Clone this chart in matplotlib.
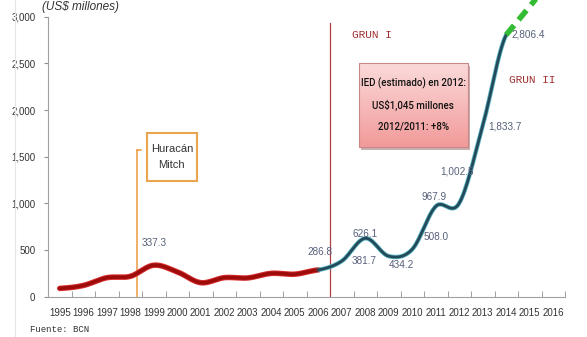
import numpy as np
import matplotlib
matplotlib.use('Agg')
import matplotlib.pyplot as plt
from matplotlib.lines import Line2D
from matplotlib.patches import Rectangle

plt.rcParams['font.family'] = ['Liberation Sans', 'DejaVu Sans']

# IED en Nicaragua, US$ millones
years = list(range(1995, 2017))
hist_years = list(range(1995, 2007))
hist_vals = [88.9, 120.0, 203.4, 218.2, 337.3, 266.5, 150.2, 203.9, 201.3, 250.0, 241.1, 286.8]
grun_years = list(range(2006, 2015))
grun_vals = [286.8, 381.7, 626.1, 434.2, 508.0, 967.9, 1002.5, 1833.7, 2806.4]
proj_years = [2014, 2015, 2016]
proj_vals = [2806.4, 3110.0, 3420.0]

# etiquetas de valores: (anio, valor, dx, dy) con desplazamiento en pixeles
labels = [(1999, 337.3, 0, 22), (2006, 286.8, 2, 18), (2007, 381.7, 22, 0),
          (2008, 626.1, 0, 4), (2009, 434.2, 13, -9), (2010, 508.0, 24, 12),
          (2011, 967.9, -2, 9), (2012, 1002.5, -2, 32), (2013, 1833.7, 22, -1),
          (2014, 2806.4, 22, 0)]


def idx(y):
    return np.asarray(y, dtype=float) - 1995


def smooth(xs, ys, n=30):
    # curva suavizada tipo Catmull-Rom entre los puntos
    xs = np.asarray(xs, float)
    ys = np.asarray(ys, float)
    px = np.concatenate([[2 * xs[0] - xs[1]], xs, [2 * xs[-1] - xs[-2]]])
    py = np.concatenate([[ys[0]], ys, [ys[-1]]])
    outx, outy = [], []
    for i in range(1, len(px) - 2):
        t = np.linspace(0, 1, n)
        for p, out in ((px, outx), (py, outy)):
            p0, p1, p2, p3 = p[i - 1], p[i], p[i + 1], p[i + 2]
            m1 = (p2 - p0) / 2.0
            m2 = (p3 - p1) / 2.0
            h00 = 2 * t**3 - 3 * t**2 + 1
            h10 = t**3 - 2 * t**2 + t
            h01 = -2 * t**3 + 3 * t**2
            h11 = t**3 - t**2
            out.extend(h00 * p1 + h10 * m1 + h01 * p2 + h11 * m2)
    return np.array(outx), np.array(outy)


fig = plt.figure(figsize=(5.87, 3.37), dpi=100)
ax = fig.add_axes([48 / 587, 1 - 296.7 / 337, 517 / 587, 280 / 337])

ax.set_xlim(-0.5, len(years) - 0.5)
ax.set_ylim(0, 3000)

# serie historica (rojo) y periodo GRUN (azul petroleo)
hx, hy = smooth(idx(hist_years), hist_vals)
ax.plot(hx, hy, color='#d83030', lw=4.0, solid_capstyle='round', zorder=3)
ax.plot(hx, hy, color='#9e0b0b', lw=2.6, solid_capstyle='round', zorder=4)
gx, gy = smooth(idx(grun_years), grun_vals)
ax.plot(gx, gy, color='#5fb8c8', lw=3.2, zorder=3)
ax.plot(gx, gy, color='#234a58', lw=2.0, zorder=4)
ax.plot(idx(proj_years), proj_vals, color='#33bb33', lw=4, ls=(0, (2.2, 1.3)),
        clip_on=False, zorder=4)

for yr, v, dx, dy in labels:
    ax.annotate(f'{v:,.1f}', (idx(yr), v), xytext=(dx, dy), textcoords='offset pixels',
                ha='center', va='center', fontsize=7.2, color='#56607a', zorder=6)

# lineas verticales
ax.plot([3.27, 3.27], [0, 1575], color='#ee9a40', lw=1.1, zorder=2)
ax.plot([3.27, 3.45], [1575, 1575], color='#ee9a40', lw=1.1, zorder=2)
ax.plot([11.5, 11.5], [0, 2930], color='#b04040', lw=0.9, zorder=2)

ax.add_patch(Rectangle((3.7, 1235), 2.15, 515, facecolor='white',
                       edgecolor='#eaa550', lw=1.5, zorder=5))
ax.text(4.77, 1495, 'Huracán\nMitch', ha='center', va='center', fontsize=8,
        color='#333333', linespacing=1.75, zorder=6)

# recuadro rosado con degradado
bx0, bx1, by0, by1 = 12.73, 17.37, 1603, 2502
ax.add_patch(Rectangle((bx0 + 0.08, by0 - 35), bx1 - bx0, by1 - by0,
                       facecolor='#c8b0b0', edgecolor='none', zorder=4))
grad = np.linspace(0, 1, 100).reshape(-1, 1)
cmap = matplotlib.colors.LinearSegmentedColormap.from_list('rosa', ['#f29a9a', '#fbdada'])
ax.imshow(grad, extent=(bx0, bx1, by0, by1), origin='lower', cmap=cmap,
          aspect='auto', zorder=5)
ax.add_patch(Rectangle((bx0, by0), bx1 - bx0, by1 - by0, facecolor='none',
                       edgecolor='#c98888', lw=0.8, zorder=6))
box_lines = ['IED (estimado) en 2012:', 'US$1,045 millones', '2012/2011: +8%']
for i, t in enumerate(box_lines):
    ax.text((bx0 + bx1) / 2, 2290 - i * 235, t, ha='center', va='center',
            fontsize=7, color='#111111', family=['Roboto', 'DejaVu Sans'],
            fontweight='medium', zorder=7)

ax.text(13.29, 2800, 'GRUN I', ha='center', va='center', fontsize=8,
        color='#a03030', family='Liberation Mono')
ax.text(20.1, 2320, 'GRUN II', ha='center', va='center', fontsize=8,
        color='#a03030', family='Liberation Mono')

# ejes
ax.set_xticks(np.arange(len(years)))
ax.set_xticklabels([str(y) for y in years], fontsize=7, color='#333333')
ax.set_xticks(np.arange(-0.5, len(years)), minor=True)
ax.tick_params(axis='x', which='major', length=0, pad=8)
ax.tick_params(axis='x', which='minor', length=4, direction='in', color='#909090')
ax.set_yticks(np.arange(0, 3001, 500))
ax.set_yticklabels([f'{v:,}' for v in range(0, 3001, 500)], fontsize=7, color='#333333')
ax.tick_params(axis='y', length=3, color='#909090', pad=6)
for s in ['top', 'right']:
    ax.spines[s].set_visible(False)
for s in ['left', 'bottom']:
    ax.spines[s].set_color('#a0a0a0')
ax.patch.set_visible(False)

fig.text(42 / 587, 1 - 7 / 337, '(US$ millones)', fontsize=8.5, style='italic',
         color='#333333', va='center', ha='left')
fig.text(30 / 587, 1 - 329 / 337, 'Fuente: BCN', fontsize=6.5, family='Liberation Mono',
         color='#333333', va='center', ha='left')
fig.add_artist(Line2D([15 / 587, 15 / 587], [0, 1], color='#e6e6e6', lw=0.8))

fig.savefig('out.png', dpi=100)
